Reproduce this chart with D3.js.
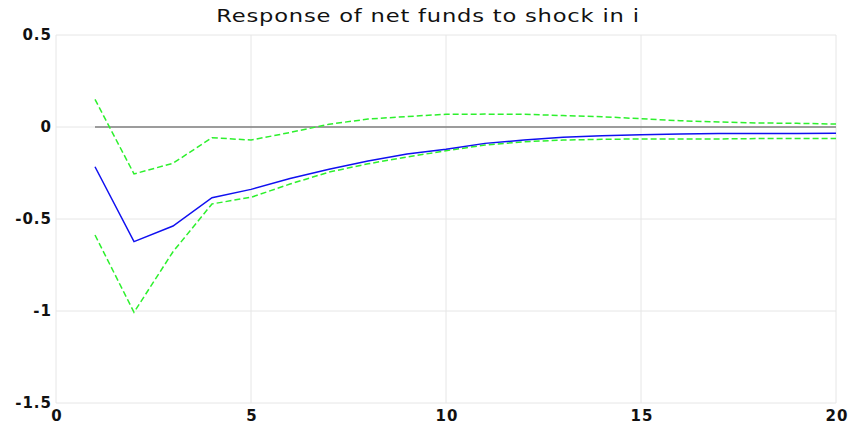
<!DOCTYPE html>
<html>
<head>
<meta charset="utf-8">
<script src="https://cdn.jsdelivr.net/npm/d3@7"></script>
<style>
	body { margin: 0; background: #fff; }
	.tick-label { font-family: "DejaVu Sans", sans-serif; font-size: 15px; font-weight: bold; fill: #111; letter-spacing: 1px; }
	.title { font-family: "DejaVu Sans", sans-serif; font-size: 17px; fill: #111; letter-spacing: 0.6px; }
</style>
</head>
<body>
<div id="chart"></div>
<script>
//Horizon of the impulse response
var periods = d3.range(1, 21);

//Point estimate
var response = [-0.216, -0.623, -0.538, -0.384, -0.339, -0.28, -0.23, -0.185, -0.147, -0.121,
	-0.089, -0.071, -0.056, -0.047, -0.042, -0.038, -0.036, -0.036, -0.035, -0.034];

//Confidence bands
var upperBand = [0.15, -0.255, -0.197, -0.058, -0.071, -0.03, 0.015, 0.043, 0.057, 0.069,
	0.07, 0.069, 0.062, 0.056, 0.045, 0.034, 0.027, 0.022, 0.02, 0.016];
var lowerBand = [-0.587, -1.007, -0.678, -0.418, -0.382, -0.31, -0.245, -0.2, -0.163, -0.129,
	-0.098, -0.08, -0.071, -0.067, -0.065, -0.065, -0.065, -0.063, -0.063, -0.062];

var xTicks = [0, 5, 10, 15, 20];
var yTicks = [0.5, 0, -0.5, -1, -1.5];
var titleText = "Response of net funds to shock in i";

///////////////////////////////////////////////////////////////////////////
//////////////////////////// Set up the SVG ///////////////////////////////
///////////////////////////////////////////////////////////////////////////

var width = 853, height = 425;
var margin = {top: 35, right: 17, bottom: 22, left: 56};

var svg = d3.select("#chart").append("svg")
	.attr("width", width)
	.attr("height", height);

var x = d3.scaleLinear().domain([0, 20]).range([margin.left, width - margin.right]);
var y = d3.scaleLinear().domain([-1.5, 0.5]).range([height - margin.bottom, margin.top]);

//Grid lines
svg.append("g").selectAll("line")
	.data(xTicks)
	.enter().append("line")
	.attr("x1", function(d) { return x(d); })
	.attr("x2", function(d) { return x(d); })
	.attr("y1", y(0.5))
	.attr("y2", y(-1.5))
	.style("stroke", "#e6e6e6")
	.style("stroke-width", 1);

svg.append("g").selectAll("line")
	.data(yTicks)
	.enter().append("line")
	.attr("x1", x(0))
	.attr("x2", x(20))
	.attr("y1", function(d) { return y(d); })
	.attr("y2", function(d) { return y(d); })
	.style("stroke", "#e6e6e6")
	.style("stroke-width", 1);

//Tick labels (plain hyphen for the minus, as in the original)
svg.append("g").selectAll("text")
	.data(yTicks)
	.enter().append("text")
	.attr("class", "tick-label")
	.attr("x", x(0) - 4)
	.attr("y", function(d) { return y(d); })
	.attr("dy", "0.35em")
	.attr("text-anchor", "end")
	.text(function(d) { return String(d); });

svg.append("g").selectAll("text")
	.data(xTicks)
	.enter().append("text")
	.attr("class", "tick-label")
	.attr("x", function(d) { return x(d) + 1; })
	.attr("y", y(-1.5) + 18)
	.attr("text-anchor", "middle")
	.text(function(d) { return d; });

//Title, stretched horizontally like the original
svg.append("text")
	.attr("class", "title")
	.attr("text-anchor", "middle")
	.attr("transform", "translate(428,22) scale(1.33,1)")
	.text(titleText);

///////////////////////////////////////////////////////////////////////////
/////////////////////////////// Lines /////////////////////////////////////
///////////////////////////////////////////////////////////////////////////

var line = d3.line()
	.x(function(d) { return x(d[0]); })
	.y(function(d) { return y(d[1]); });

//Zero line
svg.append("path")
	.attr("d", line(periods.map(function(p) { return [p, 0]; })))
	.style("fill", "none")
	.style("stroke", "#7f7f7f")
	.style("stroke-width", 1.3);

function drawSeries(values, color, dash) {
	svg.append("path")
		.attr("d", line(periods.map(function(p, i) { return [p, values[i]]; })))
		.style("fill", "none")
		.style("stroke", color)
		.style("stroke-width", 1.5)
		.style("stroke-dasharray", dash);
}//function drawSeries

drawSeries(upperBand, "#2df02d", "6,3");
drawSeries(lowerBand, "#2df02d", "6,3");
drawSeries(response, "#1010f0", null);
</script>
</body>
</html>
